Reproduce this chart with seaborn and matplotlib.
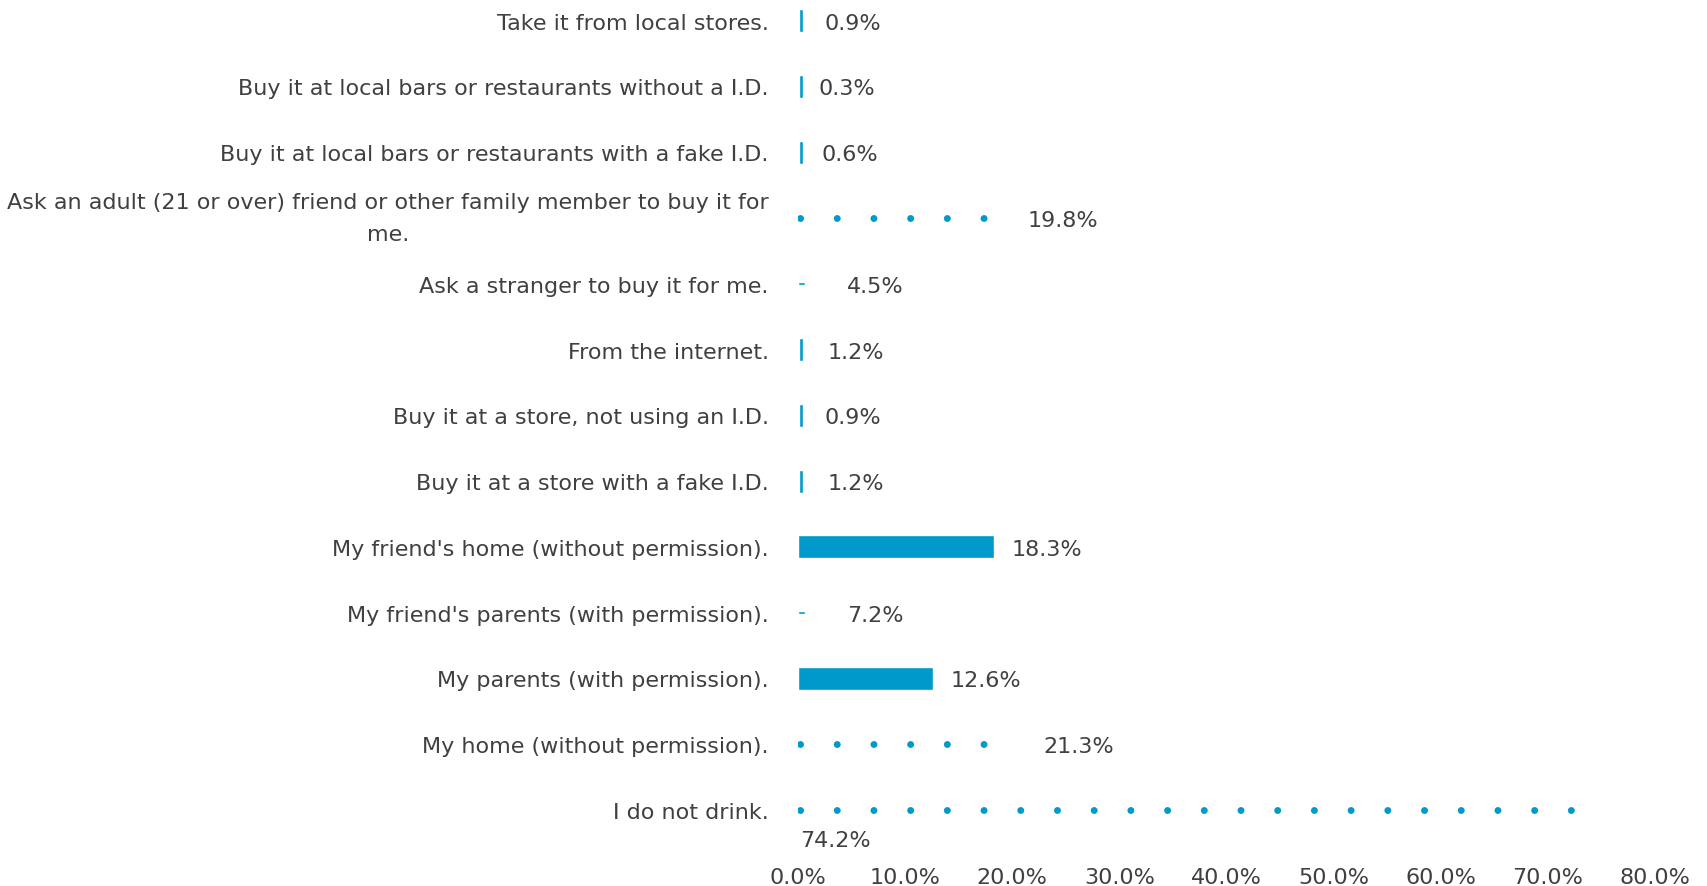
import numpy as np
import pandas as pd
import seaborn as sns
import matplotlib.pyplot as plt

# data
categorias = [
    "Take it from local stores.",
    "Buy it at local bars or restaurants without a I.D.",
    "Buy it at local bars or restaurants with a fake I.D.",
    "Ask an adult (21 or over) friend or other family member to buy it for\nme.",
    "Ask a stranger to buy it for me.",
    "From the internet.",
    "Buy it at a store, not using an I.D.",
    "Buy it at a store with a fake I.D.",
    "My friend's home (without permission).",
    "My friend's parents (with permission).",
    "My parents (with permission).",
    "My home (without permission).",
    "I do not drink.",
]
porcentajes = [0.9, 0.3, 0.6, 19.8, 4.5, 1.2, 0.9, 1.2, 18.3, 7.2, 12.6, 21.3, 74.2]
ticks_x = [0, 10, 20, 30, 40, 50, 60, 70, 80]

# how each bar shows up in the original (rendering quirks)
estilo = ["tick", "tick", "tick", "dots", "dash", "tick", "tick", "tick",
          "solid", "dash", "solid", "dots", "dots"]

AZUL = "#0099CC"
GRIS = "#404040"
FS = 16

df = pd.DataFrame({"cat": categorias, "pct": porcentajes})

sns.set_style("white")
plt.rcParams["font.family"] = ["DejaVu Sans"]

fig = plt.figure(figsize=(17.07, 8.87), dpi=100)
ax = fig.add_axes([798 / 1707, 40 / 887, (1655 - 798) / 1707, 845 / 887])

sns.barplot(data=df, x="pct", y="cat", color=AZUL, orient="h",
            width=0.35, saturation=1, ax=ax)

px_por_pct = (1655 - 798) / 80
espacio_pt = 3.42 * px_por_pct * 0.72

for i, (p, v, e) in enumerate(zip(ax.patches, porcentajes, estilo)):
    if e == "tick":
        p.set_x(0.1)
        p.set_width(0.35)
    elif e == "dash":
        yc = p.get_y() + p.get_height() / 2
        p.set_height(0.045)
        p.set_y(yc - 0.0225)
        p.set_width(0.7)
    elif e == "dots":
        p.set_visible(False)
        lw = 5.0
        ax.plot([0.2, v - 1.2], [i, i], color=AZUL, lw=lw,
                linestyle=(0, (0.01, espacio_pt / lw)),
                dash_capstyle="round", solid_capstyle="round")

# value labels
for i, (v, e) in enumerate(zip(porcentajes, estilo)):
    txt = f"{v:.1f}%"
    if i == len(porcentajes) - 1:
        ax.text(0.2, i + 0.43, txt, va="center_baseline", ha="left", fontsize=FS, color=GRIS)
    elif e == "dash":
        ax.text(4.6, i, txt, va="center_baseline", ha="left", fontsize=FS, color=GRIS)
    else:
        ax.text(v + 1.6, i, txt, va="center_baseline", ha="left", fontsize=FS, color=GRIS)

ax.set_xlim(0, 80)
ax.set_ylim(12.55, -0.3)
ax.set_xticks(ticks_x)
ax.set_xticklabels([f"{t:.1f}%" for t in ticks_x])
ax.tick_params(axis="x", length=0, pad=15, labelsize=FS, labelcolor=GRIS)
ax.tick_params(axis="y", length=0, pad=21, labelsize=FS, labelcolor=GRIS)
for t in ax.get_yticklabels():
    if "\n" in t.get_text():
        t.set_multialignment("center")
        t.set_linespacing(1.8)
        t.set_verticalalignment("center")
ax.set_xlabel("")
ax.set_ylabel("")
sns.despine(ax=ax, left=True, bottom=True)
ax.grid(False)

fig.savefig("out.png", dpi=100)
